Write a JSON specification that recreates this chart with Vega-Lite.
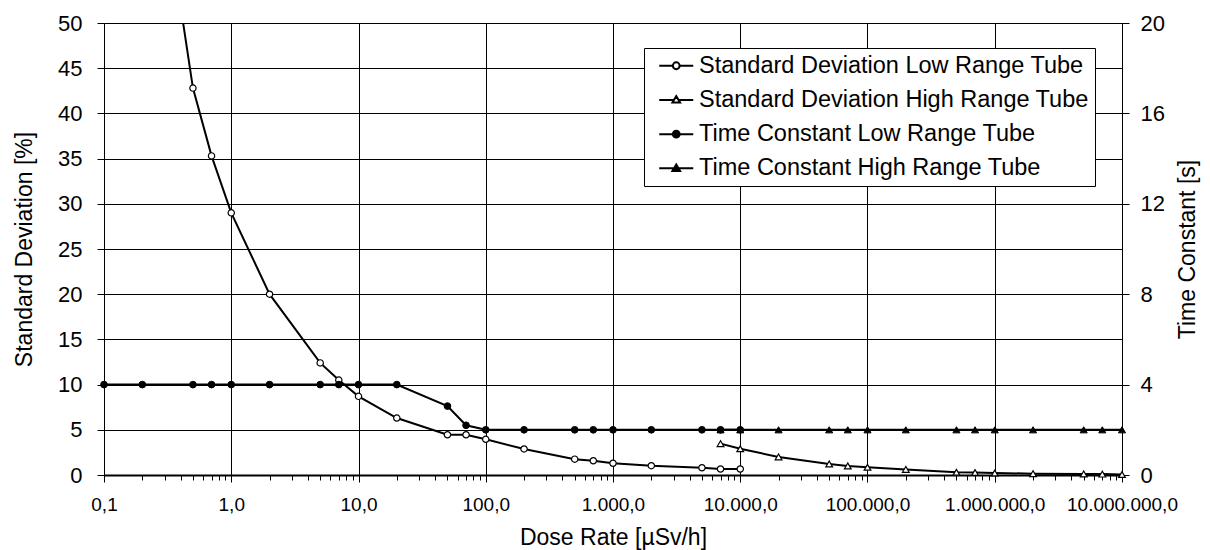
{
  "$schema": "https://vega.github.io/schema/vega-lite/v6.json",
  "autosize": "none",
  "width": 1018,
  "height": 452,
  "padding": {"left": 104, "top": 23, "right": 88, "bottom": 75},
  "background": "white",
  "config": {
    "font": "Liberation Sans",
    "view": {"stroke": null},
    "axis": {
      "labelColor": "black",
      "titleColor": "black",
      "domainColor": "black",
      "tickColor": "black",
      "gridColor": "black",
      "gridOpacity": 1,
      "titleFontWeight": "normal",
      "labelFont": "Liberation Sans",
      "titleFont": "Liberation Sans"
    }
  },
  "data": {
    "values": [
      {"series": "Standard Deviation Low Range Tube", "rate": 0.2, "value": 80},
      {"series": "Standard Deviation Low Range Tube", "rate": 0.5, "value": 42.8},
      {"series": "Standard Deviation Low Range Tube", "rate": 0.7, "value": 35.3},
      {"series": "Standard Deviation Low Range Tube", "rate": 1, "value": 29.0},
      {"series": "Standard Deviation Low Range Tube", "rate": 2, "value": 20.0},
      {"series": "Standard Deviation Low Range Tube", "rate": 5, "value": 12.4},
      {"series": "Standard Deviation Low Range Tube", "rate": 7, "value": 10.5},
      {"series": "Standard Deviation Low Range Tube", "rate": 10, "value": 8.7},
      {"series": "Standard Deviation Low Range Tube", "rate": 20, "value": 6.3},
      {"series": "Standard Deviation Low Range Tube", "rate": 50, "value": 4.45},
      {"series": "Standard Deviation Low Range Tube", "rate": 70, "value": 4.45},
      {"series": "Standard Deviation Low Range Tube", "rate": 100, "value": 3.95},
      {"series": "Standard Deviation Low Range Tube", "rate": 200, "value": 2.88},
      {"series": "Standard Deviation Low Range Tube", "rate": 500, "value": 1.75},
      {"series": "Standard Deviation Low Range Tube", "rate": 700, "value": 1.58},
      {"series": "Standard Deviation Low Range Tube", "rate": 1000, "value": 1.3},
      {"series": "Standard Deviation Low Range Tube", "rate": 2000, "value": 1.03},
      {"series": "Standard Deviation Low Range Tube", "rate": 5000, "value": 0.8},
      {"series": "Standard Deviation Low Range Tube", "rate": 7000, "value": 0.66},
      {"series": "Standard Deviation Low Range Tube", "rate": 10000, "value": 0.66},
      {"series": "Standard Deviation High Range Tube", "rate": 7000, "value": 3.47},
      {"series": "Standard Deviation High Range Tube", "rate": 10000, "value": 2.9},
      {"series": "Standard Deviation High Range Tube", "rate": 20000, "value": 2.0},
      {"series": "Standard Deviation High Range Tube", "rate": 50000, "value": 1.22},
      {"series": "Standard Deviation High Range Tube", "rate": 70000, "value": 1.0},
      {"series": "Standard Deviation High Range Tube", "rate": 100000, "value": 0.85},
      {"series": "Standard Deviation High Range Tube", "rate": 200000, "value": 0.62},
      {"series": "Standard Deviation High Range Tube", "rate": 500000, "value": 0.3},
      {"series": "Standard Deviation High Range Tube", "rate": 700000, "value": 0.27},
      {"series": "Standard Deviation High Range Tube", "rate": 1000000, "value": 0.22},
      {"series": "Standard Deviation High Range Tube", "rate": 2000000, "value": 0.15},
      {"series": "Standard Deviation High Range Tube", "rate": 5000000, "value": 0.12},
      {"series": "Standard Deviation High Range Tube", "rate": 7000000, "value": 0.1},
      {"series": "Standard Deviation High Range Tube", "rate": 10000000, "value": 0.05},
      {"series": "Time Constant Low Range Tube", "rate": 0.1, "value": 4},
      {"series": "Time Constant Low Range Tube", "rate": 0.2, "value": 4},
      {"series": "Time Constant Low Range Tube", "rate": 0.5, "value": 4},
      {"series": "Time Constant Low Range Tube", "rate": 0.7, "value": 4},
      {"series": "Time Constant Low Range Tube", "rate": 1, "value": 4},
      {"series": "Time Constant Low Range Tube", "rate": 2, "value": 4},
      {"series": "Time Constant Low Range Tube", "rate": 5, "value": 4},
      {"series": "Time Constant Low Range Tube", "rate": 7, "value": 4},
      {"series": "Time Constant Low Range Tube", "rate": 10, "value": 4},
      {"series": "Time Constant Low Range Tube", "rate": 20, "value": 4},
      {"series": "Time Constant Low Range Tube", "rate": 50, "value": 3.05},
      {"series": "Time Constant Low Range Tube", "rate": 70, "value": 2.2},
      {"series": "Time Constant Low Range Tube", "rate": 100, "value": 2},
      {"series": "Time Constant Low Range Tube", "rate": 200, "value": 2},
      {"series": "Time Constant Low Range Tube", "rate": 500, "value": 2},
      {"series": "Time Constant Low Range Tube", "rate": 700, "value": 2},
      {"series": "Time Constant Low Range Tube", "rate": 1000, "value": 2},
      {"series": "Time Constant Low Range Tube", "rate": 2000, "value": 2},
      {"series": "Time Constant Low Range Tube", "rate": 5000, "value": 2},
      {"series": "Time Constant Low Range Tube", "rate": 7000, "value": 2},
      {"series": "Time Constant Low Range Tube", "rate": 10000, "value": 2},
      {"series": "Time Constant High Range Tube", "rate": 7000, "value": 2},
      {"series": "Time Constant High Range Tube", "rate": 10000, "value": 2},
      {"series": "Time Constant High Range Tube", "rate": 20000, "value": 2},
      {"series": "Time Constant High Range Tube", "rate": 50000, "value": 2},
      {"series": "Time Constant High Range Tube", "rate": 70000, "value": 2},
      {"series": "Time Constant High Range Tube", "rate": 100000, "value": 2},
      {"series": "Time Constant High Range Tube", "rate": 200000, "value": 2},
      {"series": "Time Constant High Range Tube", "rate": 500000, "value": 2},
      {"series": "Time Constant High Range Tube", "rate": 700000, "value": 2},
      {"series": "Time Constant High Range Tube", "rate": 1000000, "value": 2},
      {"series": "Time Constant High Range Tube", "rate": 2000000, "value": 2},
      {"series": "Time Constant High Range Tube", "rate": 5000000, "value": 2},
      {"series": "Time Constant High Range Tube", "rate": 7000000, "value": 2},
      {"series": "Time Constant High Range Tube", "rate": 10000000, "value": 2}
    ]
  },
  "encoding": {
    "x": {
      "field": "rate",
      "type": "quantitative",
      "scale": {"type": "log", "domain": [0.1, 10000000], "nice": false},
      "axis": {
        "title": "Dose Rate [µSv/h]",
        "titleFontSize": 23,
        "titlePadding": 12,
        "labelFontSize": 19,
        "labelPadding": 13,
        "labelFlush": false,
        "labelOverlap": false,
        "domainWidth": 2,
        "values": [0.1, 0.2, 0.3, 0.4, 0.5, 0.6, 0.7, 0.8, 0.9,
                   1, 2, 3, 4, 5, 6, 7, 8, 9,
                   10, 20, 30, 40, 50, 60, 70, 80, 90,
                   100, 200, 300, 400, 500, 600, 700, 800, 900,
                   1000, 2000, 3000, 4000, 5000, 6000, 7000, 8000, 9000,
                   10000, 20000, 30000, 40000, 50000, 60000, 70000, 80000, 90000,
                   100000, 200000, 300000, 400000, 500000, 600000, 700000, 800000, 900000,
                   1000000, 2000000, 3000000, 4000000, 5000000, 6000000, 7000000, 8000000, 9000000,
                   10000000],
        "grid": true,
        "gridWidth": 1,
        "gridOpacity": {"condition": {"test": "abs(log(datum.value)/LN10 - round(log(datum.value)/LN10)) < 0.001", "value": 1}, "value": 0},
        "tickSize": {"condition": {"test": "abs(log(datum.value)/LN10 - round(log(datum.value)/LN10)) < 0.001", "value": 7}, "value": 5},
        "labelExpr": "abs(log(datum.value)/LN10 - round(log(datum.value)/LN10)) < 0.001 ? replace(replace(replace(format(datum.value, ',.1f'), regexp(',', 'g'), '#'), regexp('[.]', 'g'), ','), regexp('#', 'g'), '.') : ''"
      }
    }
  },
  "layer": [
    {
      "transform": [{"filter": {"field": "series", "oneOf": ["Standard Deviation Low Range Tube", "Standard Deviation High Range Tube"]}}],
      "encoding": {
        "y": {
          "field": "value",
          "type": "quantitative",
          "scale": {"domain": [0, 50], "nice": false, "zero": true},
          "axis": {
            "title": "Standard Deviation [%]",
            "titleFontSize": 23,
            "titlePadding": 21,
            "labelFontSize": 22,
            "labelPadding": 15,
            "tickSize": 7,
            "values": [0, 5, 10, 15, 20, 25, 30, 35, 40, 45, 50],
            "grid": true,
            "gridWidth": 1
          }
        }
      },
      "layer": [
        {
          "mark": {"type": "line", "color": "black", "strokeWidth": 2, "clip": true},
          "encoding": {"detail": {"field": "series"}}
        },
        {
          "transform": [
            {"filter": {"field": "series", "equal": "Standard Deviation Low Range Tube"}},
            {"filter": {"field": "value", "lte": 50}}
          ],
          "mark": {"type": "point", "shape": "circle", "filled": true, "fill": "white", "stroke": "black", "strokeWidth": 1.2, "size": 40, "opacity": 1}
        },
        {
          "transform": [{"filter": {"field": "series", "equal": "Standard Deviation High Range Tube"}}],
          "mark": {"type": "point", "shape": "triangle-up", "filled": true, "fill": "white", "stroke": "black", "strokeWidth": 1.2, "size": 45, "opacity": 1}
        }
      ]
    },
    {
      "transform": [{"filter": {"field": "series", "oneOf": ["Time Constant Low Range Tube", "Time Constant High Range Tube"]}}],
      "encoding": {
        "y": {
          "field": "value",
          "type": "quantitative",
          "scale": {"domain": [0, 20], "nice": false, "zero": true},
          "axis": {
            "orient": "right",
            "title": "Time Constant [s]",
            "titleAngle": 270,
            "titleFontSize": 23,
            "titlePadding": 35,
            "labelFontSize": 22,
            "labelPadding": 11,
            "tickSize": 7,
            "values": [0, 4, 8, 12, 16, 20],
            "grid": false
          }
        }
      },
      "layer": [
        {
          "mark": {"type": "line", "color": "black", "strokeWidth": 2, "clip": true},
          "encoding": {"detail": {"field": "series"}}
        },
        {
          "transform": [{"filter": {"field": "series", "equal": "Time Constant Low Range Tube"}}],
          "mark": {"type": "point", "shape": "circle", "filled": true, "fill": "black", "stroke": "black", "strokeWidth": 1, "size": 45, "opacity": 1}
        },
        {
          "transform": [{"filter": {"field": "series", "equal": "Time Constant High Range Tube"}}],
          "mark": {"type": "point", "shape": "triangle-up", "filled": true, "fill": "black", "stroke": "black", "strokeWidth": 1, "size": 50, "opacity": 1}
        }
      ]
    },
    {
      "mark": {"type": "point", "opacity": 0, "strokeWidth": 2},
      "encoding": {
        "shape": {
          "field": "series",
          "type": "nominal",
          "scale": {
            "domain": ["Standard Deviation Low Range Tube", "Standard Deviation High Range Tube", "Time Constant Low Range Tube", "Time Constant High Range Tube"],
            "range": [
              "M-2,0L-0.4,0M0.4,0L2,0M-0.4,0A0.4,0.4,0,1,0,0.4,0A0.4,0.4,0,1,0,-0.4,0Z",
              "M-2,0L-0.27,0M0.27,0L2,0M0,-0.45L0.45,0.3L-0.45,0.3Z",
              "M-2,0L-0.4,0M0.4,0L2,0M-0.4,0A0.4,0.4,0,1,0,0.4,0A0.4,0.4,0,1,0,-0.4,0Z",
              "M-2,0L-0.27,0M0.27,0L2,0M0,-0.45L0.45,0.3L-0.45,0.3Z"
            ]
          },
          "legend": {
            "title": null,
            "orient": "none",
            "legendX": 540,
            "legendY": 25,
            "strokeColor": "black",
            "fillColor": "white",
            "padding": 6,
            "rowPadding": 9.2,
            "labelFontSize": 23.5,
            "labelFont": "Liberation Sans",
            "labelColor": "black",
            "labelLimit": 0,
            "symbolSize": 289,
            "symbolStrokeWidth": 2,
            "symbolOpacity": 1,
            "symbolOffset": 14.5,
            "labelOffset": 11
          }
        },
        "fill": {
          "field": "series",
          "type": "nominal",
          "scale": {
            "domain": ["Standard Deviation Low Range Tube", "Standard Deviation High Range Tube", "Time Constant Low Range Tube", "Time Constant High Range Tube"],
            "range": ["white", "white", "black", "black"]
          },
          "legend": {
            "title": null,
            "orient": "none",
            "legendX": 540,
            "legendY": 25,
            "strokeColor": "black",
            "fillColor": "white",
            "padding": 6,
            "rowPadding": 9.2,
            "labelFontSize": 23.5,
            "labelFont": "Liberation Sans",
            "labelColor": "black",
            "labelLimit": 0,
            "symbolSize": 289,
            "symbolStrokeWidth": 2,
            "symbolOpacity": 1,
            "symbolOffset": 14.5,
            "labelOffset": 11
          }
        },
        "stroke": {
          "field": "series",
          "type": "nominal",
          "scale": {
            "domain": ["Standard Deviation Low Range Tube", "Standard Deviation High Range Tube", "Time Constant Low Range Tube", "Time Constant High Range Tube"],
            "range": ["black", "black", "black", "black"]
          },
          "legend": {
            "title": null,
            "orient": "none",
            "legendX": 540,
            "legendY": 25,
            "strokeColor": "black",
            "fillColor": "white",
            "padding": 6,
            "rowPadding": 9.2,
            "labelFontSize": 23.5,
            "labelFont": "Liberation Sans",
            "labelColor": "black",
            "labelLimit": 0,
            "symbolSize": 289,
            "symbolStrokeWidth": 2,
            "symbolOpacity": 1,
            "symbolOffset": 14.5,
            "labelOffset": 11
          }
        }
      }
    }
  ],
  "resolve": {"scale": {"y": "independent"}}
}
